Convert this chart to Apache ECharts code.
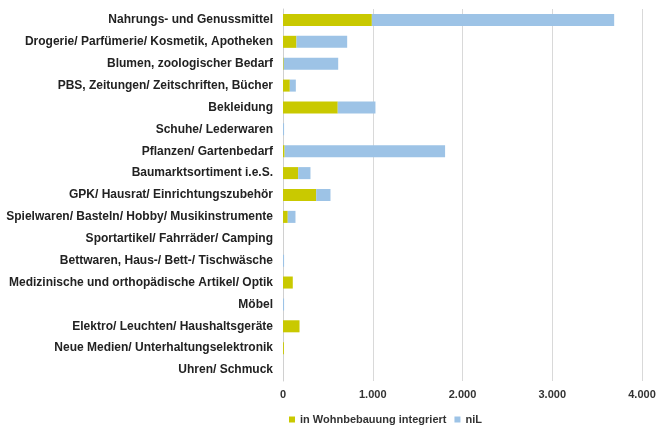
<!DOCTYPE html>
<html>
<head>
<meta charset="utf-8">
<script src="https://cdn.jsdelivr.net/npm/echarts@6/dist/echarts.min.js"></script>
<style>
  html, body { margin: 0; padding: 0; background: #fff; }
  #chart { width: 656px; height: 425px; }
</style>
</head>
<body>
<div id="chart"></div>
<script>
// Sortimente, von oben nach unten
const categories = [
  "Nahrungs- und Genussmittel",
  "Drogerie/ Parfümerie/ Kosmetik, Apotheken",
  "Blumen, zoologischer Bedarf",
  "PBS, Zeitungen/ Zeitschriften, Bücher",
  "Bekleidung",
  "Schuhe/ Lederwaren",
  "Pflanzen/ Gartenbedarf",
  "Baumarktsortiment i.e.S.",
  "GPK/ Hausrat/ Einrichtungszubehör",
  "Spielwaren/ Basteln/ Hobby/ Musikinstrumente",
  "Sportartikel/ Fahrräder/ Camping",
  "Bettwaren, Haus-/ Bett-/ Tischwäsche",
  "Medizinische und orthopädische Artikel/ Optik",
  "Möbel",
  "Elektro/ Leuchten/ Haushaltsgeräte",
  "Neue Medien/ Unterhaltungselektronik",
  "Uhren/ Schmuck"
];
const integriert = [990, 150, 8, 76, 610, 0, 18, 169, 370, 53, 0, 0, 109, 0, 184, 10, 0];
const nil = [2700, 565, 607, 67, 420, 12, 1788, 137, 159, 86, 0, 12, 0, 12, 0, 0, 0];
const seriesNames = ["in Wohnbebauung integriert", "niL"];
const xTicks = { min: 0, max: 4000, step: 1000 };

const chart = echarts.init(document.getElementById("chart"));
const fmt = (v) => v === 0 ? "0" : String(v).replace(/\B(?=(\d{3})+(?!\d))/g, ".");
const font = "Liberation Sans, Arial, sans-serif";

chart.setOption({
  animation: false,
  grid: { left: 283, right: 14, top: 9, bottom: 44, outerBoundsMode: "none" },
  legend: {
    bottom: -5, left: 284, itemWidth: 6, itemHeight: 6, itemGap: 8,
    icon: "rect",
    textStyle: { color: "#333", fontSize: 11, fontFamily: font, fontWeight: "bold" },
    data: seriesNames
  },
  xAxis: {
    type: "value", min: xTicks.min, max: xTicks.max, interval: xTicks.step,
    axisLine: { show: false }, axisTick: { show: false },
    splitLine: { lineStyle: { color: "#d9d9d9", width: 1 } },
    axisLabel: { formatter: fmt, color: "#333", fontSize: 11, fontWeight: "bold", margin: 8, fontFamily: font }
  },
  yAxis: {
    type: "category", inverse: true, data: categories,
    axisLine: { show: true, lineStyle: { color: "#d0d0d0" } },
    axisTick: { show: false },
    axisLabel: { color: "#222", fontSize: 12, fontWeight: "bold", margin: 10, fontFamily: font }
  },
  series: [
    { name: seriesNames[0], type: "bar", stack: "s", data: integriert, barWidth: "55%",
      itemStyle: { color: "#C9C900" } },
    { name: seriesNames[1], type: "bar", stack: "s", data: nil, barWidth: "55%",
      itemStyle: { color: "#9DC3E6" } }
  ]
});
</script>
</body>
</html>
